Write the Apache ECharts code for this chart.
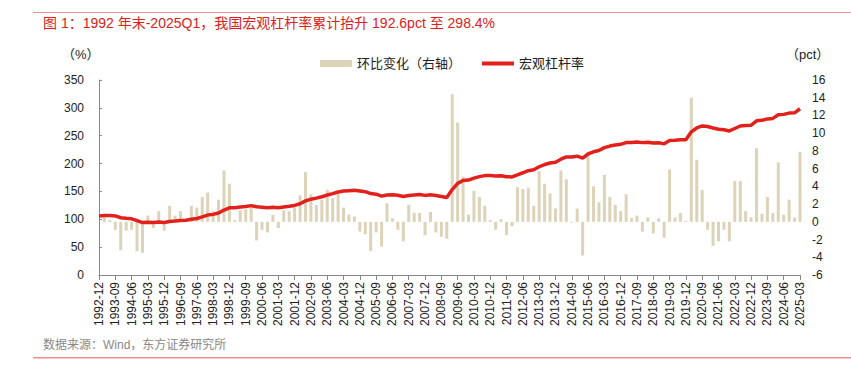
<!DOCTYPE html>
<html><head><meta charset="utf-8">
<script src="https://cdn.jsdelivr.net/npm/echarts@6/dist/echarts.min.js"></script>
<style>html,body{margin:0;padding:0;background:#fff}#c{width:851px;height:371px}</style>
</head><body><div id="c"></div>
<script>
var categories = ['1992-12',
'1993-03','1993-06','1993-09','1993-12','1994-03','1994-06','1994-09','1994-12',
'1995-03','1995-06','1995-09','1995-12','1996-03','1996-06','1996-09','1996-12',
'1997-03','1997-06','1997-09','1997-12','1998-03','1998-06','1998-09','1998-12',
'1999-03','1999-06','1999-09','1999-12','2000-03','2000-06','2000-09','2000-12',
'2001-03','2001-06','2001-09','2001-12','2002-03','2002-06','2002-09','2002-12',
'2003-03','2003-06','2003-09','2003-12','2004-03','2004-06','2004-09','2004-12',
'2005-03','2005-06','2005-09','2005-12','2006-03','2006-06','2006-09','2006-12',
'2007-03','2007-06','2007-09','2007-12','2008-03','2008-06','2008-09','2008-12',
'2009-03','2009-06','2009-09','2009-12','2010-03','2010-06','2010-09','2010-12',
'2011-03','2011-06','2011-09','2011-12','2012-03','2012-06','2012-09','2012-12',
'2013-03','2013-06','2013-09','2013-12','2014-03','2014-06','2014-09','2014-12',
'2015-03','2015-06','2015-09','2015-12','2016-03','2016-06','2016-09','2016-12',
'2017-03','2017-06','2017-09','2017-12','2018-03','2018-06','2018-09','2018-12',
'2019-03','2019-06','2019-09','2019-12','2020-03','2020-06','2020-09','2020-12',
'2021-03','2021-06','2021-09','2021-12','2022-03','2022-06','2022-09','2022-12',
'2023-03','2023-06','2023-09','2023-12','2024-03','2024-06','2024-09','2024-12',
'2025-03'];

// 环比变化 (pct, right axis)
var qoqChange = [null,
0.9,0.2,-0.9,-3.2,-1.0,-0.9,-3.3,-3.5,
0.7,-0.7,1.2,-1.0,1.8,0.7,1.2,0.1,
1.8,1.6,2.8,3.3,1.2,2.5,5.8,4.3,
0.2,1.3,1.4,1.8,-2.1,-0.9,-1.2,0.8,
-0.7,1.3,1.2,1.6,3.0,5.6,3.1,1.9,
2.5,3.6,2.7,3.3,1.6,0.8,0.6,-1.1,
-1.4,-3.3,-1.2,-2.8,2.1,0.4,-0.9,-2.2,
1.9,1.0,1.0,-1.5,1.1,-1.2,-1.7,-1.9,
14.4,11.2,5.1,0.8,3.5,2.8,1.8,0.2,
-0.9,0.3,-1.5,-0.5,3.9,3.7,3.8,1.8,
5.7,4.3,3.2,1.5,5.8,4.8,-0.1,1.5,
-3.8,7.5,4.0,2.2,5.3,2.8,1.9,1.2,
3.1,0.4,0.7,-1.1,0.5,-1.3,0.4,-1.8,
5.9,0.5,1.0,0.1,14.0,7.0,3.6,-0.9,
-2.7,-2.2,-0.9,-2.2,4.6,4.6,1.2,0.5,
8.3,0.9,2.8,1.0,6.7,0.8,2.5,0.5,
7.9];

// 宏观杠杆率 (%, left axis)
var leverage = [105.8,
106.7,106.9,106.0,102.8,101.8,100.9,97.6,94.1,
94.8,94.1,95.3,94.3,96.1,96.8,98.0,98.1,
99.9,101.5,104.3,107.6,108.8,111.3,116.6,120.5,
120.7,122.0,123.0,124.5,122.5,121.6,120.7,121.5,
120.8,122.1,123.3,124.9,127.9,133.0,136.1,138.0,
140.5,143.5,146.0,149.0,150.6,151.4,152.0,150.9,
149.5,146.2,145.0,141.6,143.5,143.9,143.0,140.8,
142.6,143.5,144.4,142.9,143.9,142.7,141.0,139.2,
153.4,164.5,169.6,170.4,173.9,176.6,178.4,178.6,
177.7,178.0,176.5,176.0,179.9,183.5,187.2,189.0,
194.3,198.3,201.0,202.5,207.8,212.0,211.9,213.4,
209.7,217.2,221.2,223.4,228.6,231.4,233.3,234.5,
237.6,238.0,238.7,237.6,238.1,236.8,237.2,235.4,
241.3,241.8,242.8,242.9,256.9,263.9,267.5,266.6,
263.9,261.7,260.8,258.6,263.0,267.4,268.4,268.8,
276.8,277.6,280.2,281.1,287.6,288.3,290.6,291.0,
298.4];

var FONT = '"Liberation Sans", Arial, "Noto Sans CJK SC", sans-serif';
var LINE_ICON = 'path://M0,0L32,0L32,0.01Z M0,1.6L32,1.6L32,5.4L0,5.4Z M0,6.99L32,6.99L32,7Z';
var chart = echarts.init(document.getElementById('c'), null, {renderer: 'svg'});
chart.setOption({
  animation: false,
  textStyle: {fontFamily: FONT},
  title: {
    text: '图 1：1992 年末-2025Q1，我国宏观杠杆率累计抬升 192.6pct 至 298.4%',
    left: 43, top: 16, padding: 0,
    textStyle: {color: '#e02020', fontSize: 14, fontWeight: 'normal', fontFamily: FONT}
  },
  legend: {
    left: 320, top: 57, padding: 0,
    itemWidth: 32, itemHeight: 7, itemGap: 21,
    textStyle: {fontSize: 13, color: '#222', fontFamily: FONT},
    data: [
      {name: '环比变化（右轴）', icon: 'rect'},
      {name: '宏观杠杆率', icon: LINE_ICON, itemStyle: {color: '#e3211c', borderWidth: 0}}
    ]
  },
  grid: {left: 99, right: 51, top: 80, bottom: 96},
  xAxis: {
    type: 'category', data: categories, boundaryGap: false,
    axisLine: {lineStyle: {color: '#888'}},
    axisTick: {interval: 2, length: 5, lineStyle: {color: '#888'}},
    axisLabel: {interval: 2, rotate: 90, fontSize: 12, color: '#222', margin: 7, fontFamily: FONT}
  },
  yAxis: [{
    type: 'value', min: 0, max: 350, interval: 50, position: 'left',
    axisLine: {show: true, lineStyle: {color: '#888'}},
    axisTick: {show: true, inside: true, length: 3, lineStyle: {color: '#888'}},
    splitLine: {show: false},
    axisLabel: {fontSize: 12, color: '#222', margin: 15, fontFamily: FONT}
  }, {
    type: 'value', min: -6, max: 16, interval: 2, position: 'right',
    axisLine: {show: false}, axisTick: {show: false}, splitLine: {show: false},
    axisLabel: {fontSize: 12, color: '#222', margin: 12, fontFamily: FONT}
  }],
  series: [{
    name: '环比变化（右轴）', type: 'bar', yAxisIndex: 1, data: qoqChange,
    barWidth: 3, itemStyle: {color: '#ddd3b9'}
  }, {
    name: '宏观杠杆率', type: 'line', yAxisIndex: 0, data: leverage,
    symbol: 'none', lineStyle: {color: '#e3211c', width: 3.5},
    itemStyle: {color: '#e3211c'}, z: 3
  }],
  graphic: [
    {type: 'rect', shape: {x: 33, y: 12, width: 818, height: 1}, style: {fill: '#ef8f8f'}},
    {type: 'rect', shape: {x: 33, y: 357, width: 818, height: 1.5}, style: {fill: '#ef8f8f'}},
    {type: 'text', left: 62, top: 48, style: {text: '（%）', fill: '#222', font: '13px ' + FONT}},
    {type: 'text', left: 786, top: 48, style: {text: '（pct）', fill: '#222', font: '13px ' + FONT}},
    {type: 'text', left: 43, top: 339, style: {text: '数据来源：Wind，东方证券研究所', fill: '#888', font: '12px ' + FONT}}
  ]
});
</script>
</body></html>
